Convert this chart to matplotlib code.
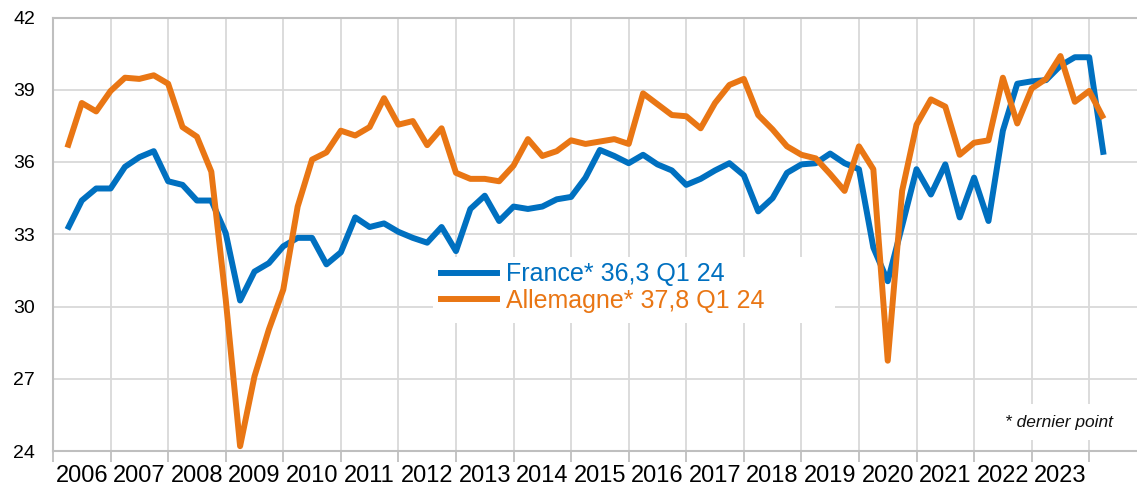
import matplotlib.pyplot as plt
from matplotlib.lines import Line2D
from matplotlib.patches import Rectangle

plt.rcParams['font.family'] = ['Liberation Sans', 'DejaVu Sans']

# ---- donnees : trimestres T1 2006 -> T1 2024 ---------------------------------

premiere_annee = 2006
annees = list(range(2006, 2024))

france = [33.2, 34.4, 34.9, 34.9, 35.8, 36.2, 36.45, 35.2, 35.05, 34.4, 34.4, 33.05,
          30.25, 31.45, 31.8, 32.5, 32.85, 32.85, 31.75, 32.25, 33.7, 33.3, 33.45, 33.1,
          32.85, 32.65, 33.3, 32.3, 34.05, 34.6, 33.55, 34.15, 34.05, 34.15, 34.45, 34.55,
          35.35, 36.5, 36.25, 35.95, 36.3, 35.9, 35.65, 35.05, 35.3, 35.65, 35.95, 35.45,
          33.95, 34.5, 35.55, 35.9, 35.95, 36.35, 35.95, 35.7, 32.45, 31.05, 33.35, 35.7,
          34.65, 35.9, 33.7, 35.35, 33.55, 37.3, 39.25, 39.35, 39.4, 40.0, 40.35, 40.35,
          36.3]

allemagne = [36.6, 38.45, 38.1, 38.95, 39.5, 39.45, 39.6, 39.25, 37.45, 37.05, 35.6, 30.3,
             24.2, 27.1, 29.05, 30.7, 34.15, 36.1, 36.4, 37.3, 37.1, 37.45, 38.65, 37.55,
             37.7, 36.7, 37.4, 35.55, 35.3, 35.3, 35.2, 35.85, 36.95, 36.25, 36.45, 36.9,
             36.75, 36.85, 36.95, 36.75, 38.85, 38.4, 37.95, 37.9, 37.4, 38.45, 39.2, 39.45,
             37.95, 37.35, 36.65, 36.3, 36.15, 35.5, 34.8, 36.65, 35.7, 27.75, 34.8, 37.55,
             38.6, 38.3, 36.3, 36.8, 36.9, 39.5, 37.6, 39.05, 39.45, 40.4, 38.5, 38.95,
             37.8]

labels = ["France* 36,3 Q1 24", "Allemagne* 37,8 Q1 24"]

BLEU = "#0070C0"
ORANGE = "#E97614"

# fin de trimestre : T1 2006 -> 2006.25, T4 2006 -> 2007.0
x = [premiere_annee + (k + 1) / 4 for k in range(len(france))]

# ---- graphique ---------------------------------------------------------------

W, H = 1137, 487
fig = plt.figure(figsize=(W / 100, H / 100), dpi=100)
ax = fig.add_axes([53 / W, (H - 451) / H, (W - 53) / W, (451 - 17.5) / H])

ax.plot(x, france, color=BLEU, lw=4.3, zorder=3, solid_joinstyle="round", solid_capstyle="butt")
ax.plot(x, allemagne, color=ORANGE, lw=4.3, zorder=4, solid_joinstyle="round", solid_capstyle="butt")

ax.set_ylim(24, 42)
ax.set_yticks(range(24, 43, 3))
ax.set_xlim(2006, 2024.83)

ax.set_xticks(annees + [2024])
ax.set_xticks([a + 0.5 for a in annees], minor=True)
ax.set_xticklabels([str(a) for a in annees], minor=True)
ax.tick_params(axis="x", which="major", length=8, width=1.3, color="#bfbfbf", labelbottom=False)
ax.tick_params(axis="x", which="minor", length=0, pad=10, labelsize=17)
ax.tick_params(axis="y", length=0, pad=13, labelsize=14)

ax.grid(True, which="major", color="#d9d9d9", lw=1.3)
ax.set_axisbelow(True)
ax.spines["right"].set_visible(False)
for s in ["left", "bottom", "top"]:
    ax.spines[s].set_color("#bfbfbf")
    ax.spines[s].set_linewidth(1.5)

# cadre blanc de la legende
ax.add_patch(Rectangle((433 / W, (H - 323) / H), (835 - 433) / W, 66 / H,
                       transform=fig.transFigure, facecolor="white", edgecolor="none",
                       zorder=2, clip_on=False))

handles = [Line2D([], [], color=BLEU, lw=4.3), Line2D([], [], color=ORANGE, lw=4.3)]
leg = ax.legend(handles, labels, loc="center left", bbox_to_anchor=(441 / W, 1 - 287.5 / H),
                bbox_transform=fig.transFigure, frameon=False, fontsize=18,
                handlelength=2.25, handletextpad=0.35, labelspacing=0.1,
                borderpad=0, borderaxespad=0, labelcolor=[BLEU, ORANGE])
leg.set_zorder(6)

ax.text(1005 / W, 1 - 422 / H, "* dernier point", transform=fig.transFigure,
        ha="left", va="center", fontsize=12.5, style="italic", color="#111111",
        bbox=dict(boxstyle="square,pad=0.6", facecolor="white", edgecolor="none"), zorder=6)

fig.savefig("out.png", dpi=100)
